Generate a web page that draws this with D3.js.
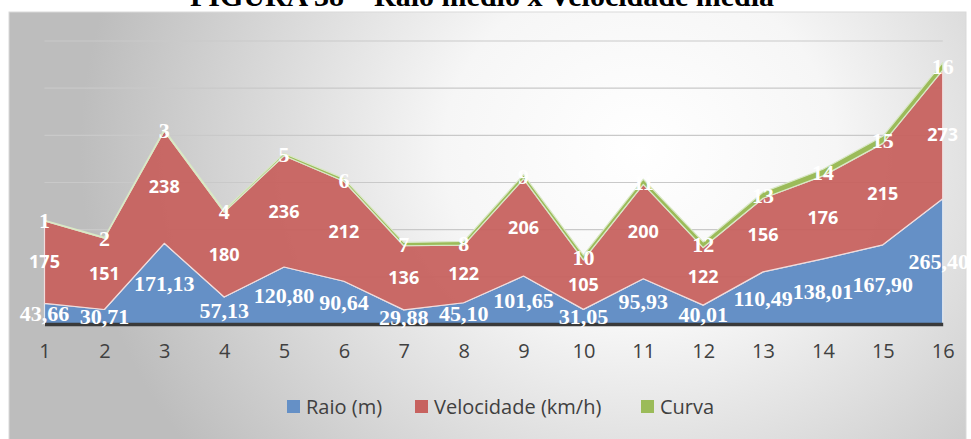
<!DOCTYPE html>
<html>
<head>
<meta charset="utf-8">
<script src="https://cdn.jsdelivr.net/npm/d3@7"></script>
<style>
  html, body { margin: 0; padding: 0; background: #ffffff; }
  svg { display: block; }
</style>
</head>
<body>
<svg id="chart" width="971" height="439"></svg>
<script>
// Curve samples: radius, speed and curve number
const categories = ["1","2","3","4","5","6","7","8","9","10","11","12","13","14","15","16"];
const raio = [43.66, 30.71, 171.13, 57.13, 120.80, 90.64, 29.88, 45.10, 101.65, 31.05, 95.93, 40.01, 110.49, 138.01, 167.90, 265.40];
const velocidade = [175, 151, 238, 180, 236, 212, 136, 122, 206, 105, 200, 122, 156, 176, 215, 273];
const curva = [1, 2, 3, 4, 5, 6, 7, 8, 9, 10, 11, 12, 13, 14, 15, 16];
const seriesNames = ["Raio (m)", "Velocidade (km/h)", "Curva"];
const yTicks = [0, 100, 200, 300, 400, 500, 600];
const title = "FIGURA 38 – Raio médio x Velocidade média";

const colors = ["#6590c6", "#c7625f", "#9bbb59"];
const outlines = ["#dfe6f0", "#f1dcdc", "#d9e8c6"];

const svg = d3.select("#chart");

// panel background with soft radial shading
const defs = svg.append("defs");
const rg = defs.append("radialGradient").attr("id", "bg")
  .attr("gradientUnits", "userSpaceOnUse")
  .attr("cx", 640).attr("cy", 150).attr("r", 560)
  .attr("gradientTransform", "translate(640,150) scale(1,0.9) translate(-640,-150)");
rg.append("stop").attr("offset", "0").attr("stop-color", "#ffffff");
rg.append("stop").attr("offset", "0.35").attr("stop-color", "#f6f6f6");
rg.append("stop").attr("offset", "1").attr("stop-color", "#bdbdbd");

svg.append("rect").attr("x", 9).attr("y", 12).attr("width", 957).attr("height", 430)
  .attr("fill", "url(#bg)").attr("stroke", "#d9d9d9").attr("stroke-width", 1);

// title (runs off the top of the page)
svg.append("text").attr("x", 482).attr("y", 6)
  .attr("text-anchor", "middle")
  .attr("font-family", "'Liberation Serif', 'Times New Roman', serif")
  .attr("font-weight", "bold").attr("font-size", 30).attr("fill", "#000")
  .text(title);

const x = d3.scalePoint().domain(categories).range([44.5, 942.7]);
const y = d3.scaleLinear().domain([0, 600]).range([324, 41]);

// gridlines
svg.append("g").selectAll("line").data(yTicks.slice(1)).join("line")
  .attr("x1", x(categories[0])).attr("x2", x(categories[categories.length - 1]))
  .attr("y1", d => y(d)).attr("y2", d => y(d))
  .attr("stroke", "#c9c9c9").attr("stroke-width", 1.2);

// stacked data
const rows = categories.map((c, i) => ({ cat: c, r: raio[i], v: velocidade[i], c2: curva[i] }));
const keys = ["r", "v", "c2"];
const stack = d3.stack().keys(keys)(rows);

const area = d3.area()
  .x(d => x(d.data.cat))
  .y0(d => y(d[0]))
  .y1(d => y(d[1]));

svg.append("g").selectAll("path").data(stack).join("path")
  .attr("d", area)
  .attr("fill", (d, i) => colors[i])
  .attr("fill-opacity", (d, i) => i === 1 ? 0.95 : 1)
  .attr("stroke", (d, i) => outlines[i])
  .attr("stroke-width", 1.2)
  .attr("stroke-linejoin", "round");

// x axis
const xAxis = d3.axisBottom(x).tickSize(0).tickPadding(20);
const gx = svg.append("g").attr("transform", `translate(0,${y(0)})`).call(xAxis);
gx.select(".domain").attr("stroke", "#3a3a3a").attr("stroke-width", 3.5);
gx.selectAll("text")
  .attr("font-family", "'Open Sans', sans-serif")
  .attr("font-size", 20).attr("fill", "#404040");

// data labels at the middle of each band
const fmt2 = v => d3.format(".2f")(v).replace(".", ",");
const labelStyles = [
  { family: "'Liberation Serif', 'Times New Roman', serif", size: 22, text: v => fmt2(v) },
  { family: "'Open Sans', sans-serif", size: 18, text: v => d3.format("d")(v) },
  { family: "'Liberation Serif', 'Times New Roman', serif", size: 22, text: v => d3.format("d")(v) }
];
stack.forEach((layer, li) => {
  const st = labelStyles[li];
  svg.append("g").selectAll("text").data(layer).join("text")
    .attr("x", d => x(d.data.cat))
    .attr("y", d => y((d[0] + d[1]) / 2))
    .attr("dy", "0.35em")
    .attr("text-anchor", "middle")
    .attr("font-family", st.family)
    .attr("font-weight", "bold")
    .attr("font-size", st.size)
    .attr("fill", "#ffffff")
    .text(d => st.text(d[1] - d[0]))
    .each(function () {
      // keep labels inside the right edge of the page
      const w = this.getComputedTextLength();
      const cx = +this.getAttribute("x");
      if (cx + w / 2 > 969) this.setAttribute("x", 969 - w / 2);
    });
});

// legend
const legendItems = [
  { sx: 287, tx: 306 },
  { sx: 415, tx: 434 },
  { sx: 641, tx: 660 }
];
const lg = svg.append("g");
seriesNames.forEach((name, i) => {
  lg.append("rect").attr("x", legendItems[i].sx).attr("y", 400)
    .attr("width", 13).attr("height", 13).attr("fill", colors[i]);
  lg.append("text").attr("x", legendItems[i].tx).attr("y", 407).attr("dy", "0.35em")
    .attr("font-family", "'Open Sans', sans-serif").attr("font-size", 20)
    .attr("fill", "#404040").text(name);
});
</script>
</body>
</html>
